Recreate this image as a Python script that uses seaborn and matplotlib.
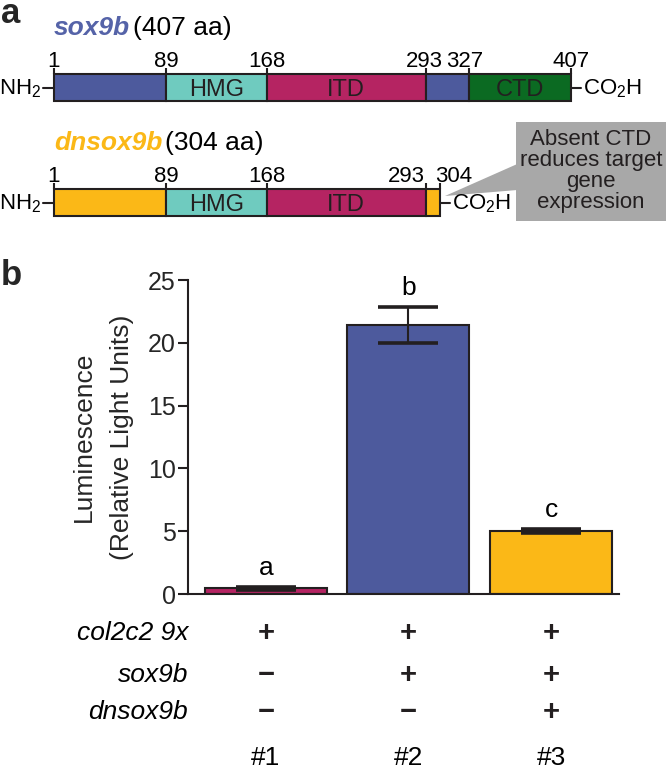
import numpy as np
import pandas as pd
import matplotlib
matplotlib.use("Agg")
import matplotlib.pyplot as plt
import seaborn as sns
from matplotlib.patches import Rectangle, Polygon
import matplotlib.transforms as mtransforms

# ---------------- data ----------------
sox9b_bounds = [1, 89, 168, 293, 327, 407]
sox9b_domains = ["", "HMG", "ITD", "", "CTD"]
dnsox9b_bounds = [1, 89, 168, 293, 304]
dnsox9b_domains = ["", "HMG", "ITD", ""]

conditions = ["#1", "#2", "#3"]
luminescence = [0.45, 21.4, 5.0]
sem = [0.1, 1.45, 0.15]
sig_letters = ["a", "b", "c"]
table_rows = ["col2c2 9x", "sox9b", "dnsox9b"]
table_values = [["+", "+", "+"], ["\u2212", "+", "+"], ["\u2212", "\u2212", "+"]]
y_ticks = [0, 5, 10, 15, 20, 25]

# ---------------- style ----------------
BLUE = "#4d5a9d"
BLUE_T = "#5563a8"
TEAL = "#6fcbbf"
MAG = "#b52462"
GREEN = "#0b6a22"
YELLOW = "#fbb817"
DARK = "#231f20"
GRAY = "#a8a8a8"

sox9b_colors = [BLUE, TEAL, MAG, BLUE, GREEN]
dnsox9b_colors = [YELLOW, TEAL, MAG, YELLOW]
bar_colors = [MAG, BLUE, YELLOW]

sns.set_theme(style="white")
plt.rcParams["font.family"] = ["Liberation Sans", "DejaVu Sans"]
plt.rcParams["mathtext.fontset"] = "custom"
plt.rcParams["mathtext.rm"] = "Liberation Sans"
plt.rcParams["mathtext.default"] = "regular"

W, H = 666, 770
fig = plt.figure(figsize=(W / 100, H / 100), dpi=100)
fig.patch.set_facecolor("white")


def fx(px):
    return px / W


def fy(py):
    return 1 - py / H


# ---------------- panel a ----------------
PX0, PX_PER_AA = 54.0, (571 - 54) / 406.0
A_H = 250
ax_a = fig.add_axes([0, fy(A_H), 1, A_H / H])
ax_a.set_xlim(1 - PX0 / PX_PER_AA, 1 + (W - PX0) / PX_PER_AA)
ax_a.set_ylim(A_H, 0)
ax_a.axis("off")


def aa_off(px):
    return px / PX_PER_AA


def draw_protein(bounds, domains, colors, yc, label_offsets):
    h = 27
    for i in range(len(bounds) - 1):
        ax_a.barh(yc, bounds[i + 1] - bounds[i], left=bounds[i], height=h,
                  color=colors[i], edgecolor=DARK, linewidth=1.5, zorder=2)
        if domains[i]:
            ax_a.text((bounds[i] + bounds[i + 1]) / 2, yc + 8.5, domains[i],
                      ha="center", va="baseline", fontsize=17, color=DARK, zorder=3)
    for b, off in zip(bounds, label_offsets):
        ax_a.plot([b, b], [yc - h / 2 - 6, yc - h / 2], color=DARK, lw=1.5, zorder=3,
                  solid_capstyle="butt")
        ax_a.text(b + aa_off(off), yc - h / 2 - 7, str(b), ha="center", va="baseline",
                  fontsize=16, color="black")
    # NH2 and CO2H ends
    ax_a.plot([bounds[0] - aa_off(11), bounds[0]], [yc, yc], color=DARK, lw=1.5)
    ax_a.text(bounds[0] - aa_off(13), yc + 7, "NH$_2$", ha="right", va="baseline",
              fontsize=16, color="black")
    ax_a.plot([bounds[-1], bounds[-1] + aa_off(10)], [yc, yc], color=DARK, lw=1.5)
    ax_a.text(bounds[-1] + aa_off(12), yc + 7, "CO$_2$H", ha="left", va="baseline",
              fontsize=16, color="black")


def draw_title(name, length, color, y_base):
    t1 = ax_a.text(1, y_base, name, ha="left", va="baseline", fontsize=19,
                   fontweight="bold", fontstyle="italic", color=color)
    fig.canvas.draw()
    bb = t1.get_window_extent()
    x2 = ax_a.transData.inverted().transform((bb.x1, 0))[0]
    ax_a.text(x2 + aa_off(3), y_base, f"({length} aa)", ha="left", va="baseline",
              fontsize=19, color="black")


draw_title("sox9b", 407, BLUE_T, 35)
draw_protein(sox9b_bounds, sox9b_domains, sox9b_colors, 87.5, [0, 0, 0, -1, -4, 0])
draw_title("dnsox9b", 304, YELLOW, 150)
draw_protein(dnsox9b_bounds, dnsox9b_domains, dnsox9b_colors, 202.5, [0, 0, 0, -19, 14])

# callout box
bx0 = 1 + (516 - PX0) / PX_PER_AA
bx1 = 1 + (W - PX0) / PX_PER_AA
ax_a.add_patch(Rectangle((bx0, 122), bx1 - bx0, 99, facecolor=GRAY, edgecolor="none",
                         zorder=1))
ax_a.add_patch(Polygon([(1 + (445 - PX0) / PX_PER_AA, 196), (bx0 + 1, 164), (bx0 + 1, 190)],
                       closed=True, facecolor=GRAY, edgecolor="none", zorder=1))
ax_a.text((bx0 + bx1) / 2, 171, "Absent CTD\nreduces target\ngene\nexpression",
          ha="center", va="center", multialignment="center", fontsize=16,
          linespacing=1.0, color=DARK, zorder=3)

fig.text(fx(1), fy(23), "a", fontsize=25, fontweight="bold", ha="left", va="baseline")
fig.text(fx(1), fy(285), "b", fontsize=25, fontweight="bold", ha="left", va="baseline")

# ---------------- panel b ----------------
ax_b = fig.add_axes([fx(188), fy(594), (619 - 188) / W, (594 - 280) / H])
df = pd.DataFrame({"cond": conditions, "value": luminescence})
sns.barplot(data=df, x="cond", y="value", hue="cond", palette=bar_colors, legend=False,
            width=0.856, edgecolor=DARK, linewidth=1.5, errorbar=None, ax=ax_b,
            saturation=1)
xs = np.arange(len(conditions))
ax_b.errorbar(xs, luminescence, yerr=sem, fmt="none", ecolor=DARK, elinewidth=1.5,
              capsize=21.6, capthick=2.6, zorder=5)
for x, m, e, L in zip(xs, luminescence, sem, sig_letters):
    ax_b.annotate(L, xy=(x, m + e), xytext=(0, 9), textcoords="offset points",
                  ha="center", va="baseline", fontsize=19, color="black")

ax_b.set_xlim(-0.547, 2.477)
ax_b.set_ylim(0, 25)
ax_b.set_yticks(y_ticks)
ax_b.set_xticks([])
ax_b.set_xlabel("")
ax_b.set_ylabel("Luminescence\n(Relative Light Units)", fontsize=19, linespacing=1.75)
ax_b.yaxis.set_label_coords(-0.125, 0.5)
ax_b.tick_params(axis="y", direction="out", length=7, width=1.5, color=DARK,
                 labelsize=18, pad=2, left=True)
for s in ["top", "right"]:
    ax_b.spines[s].set_visible(False)
for s in ["left", "bottom"]:
    ax_b.spines[s].set_linewidth(1.5)
    ax_b.spines[s].set_color(DARK)
ax_b.set_facecolor("none")

# ---------------- condition table ----------------
blend = mtransforms.blended_transform_factory(ax_b.transData, fig.transFigure)
row_y = [633, 675, 712]
for r, (name, vals) in enumerate(zip(table_rows, table_values)):
    fig.text(fx(188), fy(row_y[r]), name, ha="right", va="center", fontsize=19,
             fontstyle="italic", color="black")
    for x, v in zip(xs, vals):
        fig.text(x, fy(row_y[r]), v, transform=blend, ha="center", va="center",
                 fontsize=21, fontweight="bold", color=DARK)
for x, c in zip(xs, conditions):
    fig.text(x, fy(758), c, transform=blend, ha="center", va="center", fontsize=19,
             color="black")

fig.savefig("out.png", dpi=100)
